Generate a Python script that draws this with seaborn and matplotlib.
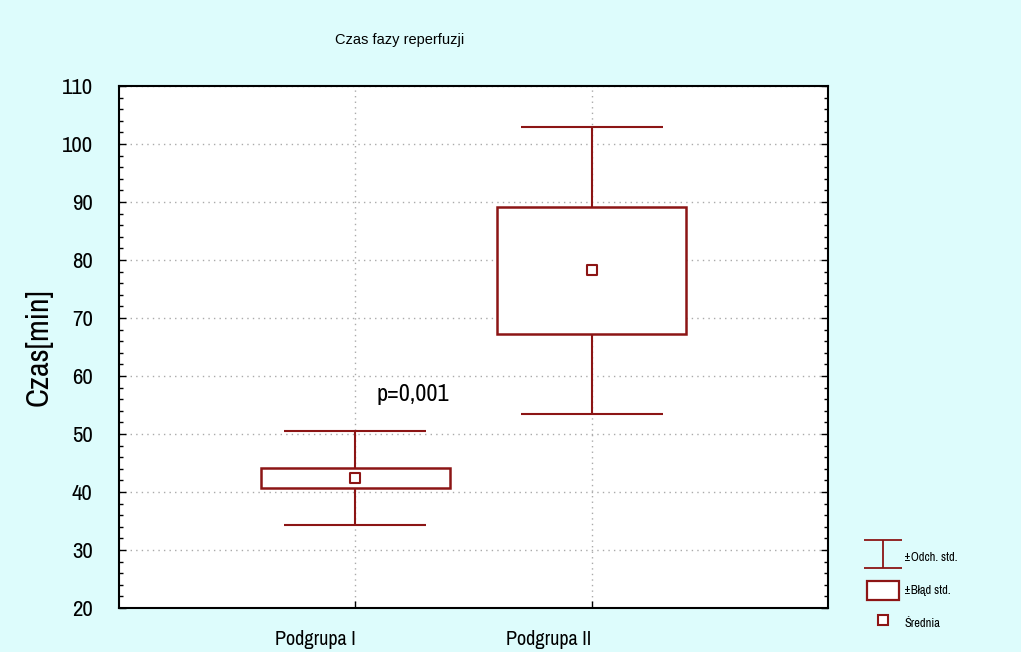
import numpy as np
import pandas as pd
import seaborn as sns
import matplotlib.pyplot as plt
from matplotlib.path import Path
from matplotlib.lines import Line2D
from matplotlib.patches import Patch
from matplotlib.ticker import MultipleLocator

# =================== Data ===================

groups = ['Podgrupa I', 'Podgrupa II']
means = [42.4, 78.2]
std_err = [1.7, 11.0]
std_dev = [8.1, 24.7]

title = 'Czas fazy reperfuzji'
y_label = 'Czas[min]'
p_text = 'p=0,001'
legend_labels = ['±Odch. std.', '±Błąd std.', 'Średnia']

RED = '#8c1515'
BG = '#ddfcfc'

# =================== Plot ===================

sns.set_style('ticks')
plt.rcParams['font.family'] = ['Archivo Narrow', 'DejaVu Sans']
plt.rcParams['text.color'] = 'black'
plt.rcParams['xtick.color'] = 'black'
plt.rcParams['ytick.color'] = 'black'
plt.rcParams['axes.labelcolor'] = 'black'

df = pd.DataFrame({'Group': groups, 'Mean': means, 'SE': std_err, 'SD': std_dev})
df['x'] = np.arange(len(df))

fig = plt.figure(figsize=(10.21, 6.52), dpi=100, facecolor=BG)
ax = fig.add_axes([0.1166, 0.0675, 0.6944, 0.8006])
ax.set_facecolor('white')

# whiskers (mean +/- SD)
ax.errorbar(df['x'], df['Mean'], yerr=df['SD'], fmt='none', ecolor=RED,
            elinewidth=1.5, capsize=51, capthick=1.5, zorder=2)

# boxes (mean +/- SE)
ax.bar(df['x'], 2 * df['SE'], bottom=df['Mean'] - df['SE'], width=0.8,
       facecolor='white', edgecolor=RED, linewidth=1.8, zorder=3)

# mean markers
sns.scatterplot(data=df, x='x', y='Mean', marker='s', s=60, color='white',
                edgecolor=RED, linewidth=1.5, zorder=4, ax=ax, legend=False)

ax.text(0.09, 55.0, p_text, fontsize=17.5, ha='left', va='bottom')

ax.set_xlim(-1, 2)
ax.set_ylim(20, 110)
ax.set_xticks(df['x'])
ax.set_xticklabels(groups, fontsize=14.5, ha='right')
ax.yaxis.set_major_locator(MultipleLocator(10))
ax.yaxis.set_minor_locator(MultipleLocator(2))
ax.tick_params(axis='y', which='major', direction='in', length=5, width=1,
               right=True, labelsize=16.5, pad=19)
ax.tick_params(axis='y', which='minor', direction='in', length=3, width=1, right=True)
ax.tick_params(axis='x', direction='in', length=5, width=1, pad=16)
ax.grid(True, linestyle=(0, (1, 3)), color='#aaaaaa', linewidth=1)
for sp in ax.spines.values():
    sp.set_color('black')
    sp.set_linewidth(1.5)

ax.set_xlabel('')
ax.set_ylabel(y_label, fontsize=23)
ax.yaxis.set_label_coords(-0.094, 0.5)
fig.text(0.391, 0.938, title, fontsize=10.5, ha='center', va='center',
         family=['Liberation Sans', 'DejaVu Sans'])

# legend
i_path = Path([(-1, 0.7), (1, 0.7), (0, 0.7), (0, -0.7), (-1, -0.7), (1, -0.7)],
              [Path.MOVETO, Path.LINETO, Path.MOVETO, Path.LINETO, Path.MOVETO, Path.LINETO])
handles = [
    Line2D([], [], linestyle='none', marker=i_path, markersize=28,
           markeredgecolor=RED, markerfacecolor='none', markeredgewidth=1.3),
    Patch(facecolor='white', edgecolor=RED, linewidth=1.6),
    Line2D([], [], linestyle='none', marker='s', markersize=7,
           markerfacecolor='white', markeredgecolor=RED, markeredgewidth=1.5),
]
fig.legend(handles, legend_labels, loc='lower left', bbox_to_anchor=(0.838, 0.012),
           frameon=False, fontsize=9, handlelength=2.6, handleheight=2.0,
           labelspacing=1.1, handletextpad=0.4)

fig.savefig('out.png', dpi=100, facecolor=BG)
